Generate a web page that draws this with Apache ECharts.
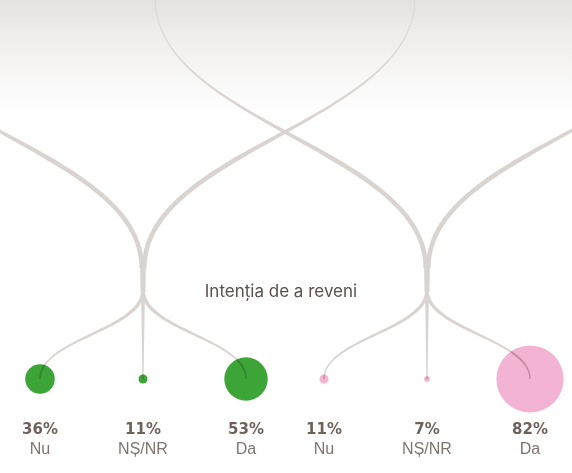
<!DOCTYPE html>
<html>
<head>
<meta charset="utf-8">
<script src="https://cdn.jsdelivr.net/npm/echarts@6/dist/echarts.min.js"></script>
<style>
  html, body { margin: 0; padding: 0; background: #ffffff; }
  #chart { width: 572px; height: 473px; }
</style>
</head>
<body>
<div id="chart"></div>
<script>
// Answers to "Intenția de a reveni", two respondent groups
const categories = ['Nu', 'NȘ/NR', 'Da'];
const greenShares = [36, 11, 53];
const pinkShares = [11, 7, 82];
const chartTitle = 'Intenția de a reveni';

// Layout (axis units equal pixels: the grid fills the canvas)
const W = 572, H = 473;
const GROUP_CENTERS = [143, 427];
const STEP = 103;
const DOT_Y = 379;
const PCT_Y = 430;
const CAT_Y = 450;
const MERGE_Y = 268;
const SPLIT_Y = 290;
const FEED_SPAN = 272;
const SIZE_PER_POINT = 0.82;   // circle diameter per percentage point
const LINE_COLOR = '#d9d4d1';
const GROUP_COLORS = ['#3da538', '#f3b3d3'];

const groups = [greenShares, pinkShares];

// multiply two hex colours (how a line looks where it runs over a circle)
function multiplyHex(a, b) {
  const pa = [1, 3, 5].map(k => parseInt(a.substr(k, 2), 16));
  const pb = [1, 3, 5].map(k => parseInt(b.substr(k, 2), 16));
  return 'rgb(' + pa.map((c, k) => Math.round(c * pb[k] / 255 * 0.92)).join(',') + ')';
}

// circle + label records built from the data arrays
const dots = [];
groups.forEach((vals, g) => {
  vals.forEach((v, i) => {
    dots.push({ g, i, v, x: GROUP_CENTERS[g] + (i - 1) * STEP });
  });
});

// flow paths: [x0, y0, x1, y1, h1, h2, kind, value, group]
// kind 0 = feed from the top, 1 = trunk, 2 = branch to a circle
const paths = [];
GROUP_CENTERS.forEach((cx, g) => {
  paths.push([cx - FEED_SPAN, -2, cx - 1.3, MERGE_Y, 124, 119, 0, 0, g]);
  paths.push([cx + FEED_SPAN, -2, cx + 1.3, MERGE_Y, 124, 119, 0, 0, g]);
  paths.push([cx, MERGE_Y - 4, cx, SPLIT_Y + 2, 0, 0, 1, 0, g]);
});
dots.forEach((d) => {
  paths.push([GROUP_CENTERS[d.g], SPLIT_Y, d.x, DOT_Y, 40, 40, 2, d.v, d.g]);
});

function widthAt(kind, t) {
  if (kind === 0) return 0.7 + 3.9 * Math.pow(Math.min(1, t / 0.62), 1.5);
  if (kind === 1) return 6 - 1.2 * t;
  return 3.8 - 2.5 * Math.pow(t, 0.9);
}

function bez(p, t) {
  const u = 1 - t;
  return [
    u*u*u*p[0][0] + 3*u*u*t*p[1][0] + 3*u*t*t*p[2][0] + t*t*t*p[3][0],
    u*u*u*p[0][1] + 3*u*u*t*p[1][1] + 3*u*t*t*p[2][1] + t*t*t*p[3][1]
  ];
}
function bezD(p, t) {
  const u = 1 - t;
  return [
    3*u*u*(p[1][0]-p[0][0]) + 6*u*t*(p[2][0]-p[1][0]) + 3*t*t*(p[3][0]-p[2][0]),
    3*u*u*(p[1][1]-p[0][1]) + 6*u*t*(p[2][1]-p[1][1]) + 3*t*t*(p[3][1]-p[2][1])
  ];
}

// tapered ribbon along a cubic curve between tA and tB
function ribbon(p, kind, tA, tB) {
  const n = 70, left = [], right = [];
  for (let k = 0; k <= n; k++) {
    const t = tA + (tB - tA) * k / n;
    const pt = bez(p, t);
    const d = bezD(p, t);
    const len = Math.hypot(d[0], d[1]) || 1;
    const nx = -d[1] / len, ny = d[0] / len;
    const w = widthAt(kind, t) / 2;
    left.push([pt[0] + nx * w, pt[1] + ny * w]);
    right.push([pt[0] - nx * w, pt[1] - ny * w]);
  }
  return left.concat(right.reverse());
}

function controlPoints(api, v) {
  const [x0, y0, x1, y1, h1, h2] = v;
  return [
    api.coord([x0, y0]),
    api.coord([x0, y0 + h1]),
    api.coord([x1, y1 - h2]),
    api.coord([x1, y1])
  ];
}

function renderFlow(params, api) {
  const v = paths[params.dataIndex];
  const p = controlPoints(api, v);
  return {
    type: 'polygon',
    shape: { points: ribbon(p, v[6], 0, 1) },
    style: { fill: LINE_COLOR }
  };
}

// part of each branch that lies over its circle, in the mixed tone
function renderTail(params, api) {
  const v = paths[params.dataIndex];
  if (v[6] !== 2) return null;
  const p = controlPoints(api, v);
  const c = p[3];
  const r = v[7] * SIZE_PER_POINT / 2;
  let tA = 1;
  for (let k = 0; k <= 400; k++) {
    const t = k / 400;
    const q = bez(p, t);
    if (Math.hypot(q[0] - c[0], q[1] - c[1]) <= r) { tA = t; break; }
  }
  if (tA >= 0.999) return null;
  return {
    type: 'polygon',
    shape: { points: ribbon(p, 2, tA, 1) },
    style: { fill: multiplyHex(LINE_COLOR, GROUP_COLORS[v[8]]) }
  };
}

const chart = echarts.init(document.getElementById('chart'), null, { renderer: 'canvas' });

chart.setOption({
  animation: false,
  backgroundColor: '#ffffff',
  grid: { left: 0, right: 0, top: 0, bottom: 0 },
  xAxis: { type: 'value', min: 0, max: W, show: false },
  yAxis: { type: 'value', min: 0, max: H, inverse: true, show: false },
  graphic: [
    {
      type: 'rect', z: -100, silent: true,
      shape: { x: 0, y: 0, width: W, height: 150 },
      style: {
        fill: new echarts.graphic.LinearGradient(0, 0, 0, 1, [
          { offset: 0, color: '#e5e1df' },
          { offset: 0.2, color: '#eeebea' },
          { offset: 0.45, color: '#f6f5f4' },
          { offset: 0.7, color: '#fdfdfd' },
          { offset: 0.85, color: '#ffffff' },
          { offset: 1, color: '#ffffff' }
        ])
      }
    },
    {
      type: 'text', silent: true, z: 10,
      x: 281, y: 292,
      style: {
        text: chartTitle,
        fill: '#5b504c',
        font: '17px Inter, "Noto Sans", sans-serif',
        align: 'center',
        verticalAlign: 'middle'
      }
    }
  ],
  series: [
    {
      type: 'custom',
      z: 1,
      silent: true,
      renderItem: renderFlow,
      data: paths.map((p, k) => k),
      clip: false
    },
    {
      type: 'scatter',
      z: 2,
      silent: true,
      data: dots.map(d => ({
        value: [d.x, DOT_Y, d.v],
        itemStyle: { color: GROUP_COLORS[d.g], opacity: 1 }
      })),
      symbol: 'circle',
      symbolSize: (val) => val[2] * SIZE_PER_POINT
    },
    {
      type: 'custom',
      z: 3,
      silent: true,
      renderItem: renderTail,
      data: paths.map((p, k) => k),
      clip: false
    },
    {
      type: 'scatter',
      z: 4,
      silent: true,
      symbolSize: 0,
      data: dots.map(d => [d.x, PCT_Y, d.v]),
      label: {
        show: true,
        position: 'inside',
        formatter: (p) => p.value[2] + '%',
        color: '#4a3a33',
        fontFamily: '"DejaVu Sans", sans-serif',
        fontWeight: 'bold',
        fontSize: 15
      }
    },
    {
      type: 'scatter',
      z: 4,
      silent: true,
      symbolSize: 0,
      data: dots.map(d => [d.x, CAT_Y, d.i]),
      label: {
        show: true,
        position: 'inside',
        formatter: (p) => categories[p.value[2]],
        color: '#5c514d',
        fontFamily: '"Liberation Sans", Arial, sans-serif',
        fontSize: 16
      }
    }
  ]
});
</script>
</body>
</html>
